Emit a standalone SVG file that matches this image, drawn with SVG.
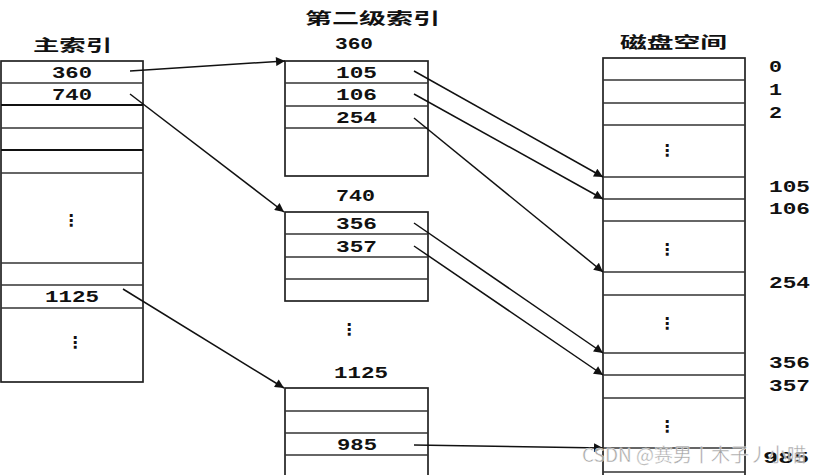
<svg xmlns="http://www.w3.org/2000/svg" width="828" height="475" viewBox="0 0 828 475">
<style>
.box{fill:#fff;stroke:#222;stroke-width:1.7}
.ln{stroke:#333;stroke-width:1.4}
.thk{stroke:#111;stroke-width:2.2}
.num{font-family:"Liberation Mono","DejaVu Sans Mono",monospace;font-weight:bold;font-size:17px;fill:#111}
.ttl{font-family:"Noto Sans CJK SC","Noto Sans",sans-serif;font-weight:bold;font-size:16px;fill:#111}
.dots{font-family:"DejaVu Sans",sans-serif;font-weight:bold;font-size:16px;fill:#111;text-anchor:middle}
.arr{stroke:#111;stroke-width:1.5;fill:none;marker-end:url(#ah)}
.wm{font-family:"Noto Sans CJK SC","Liberation Sans",sans-serif;font-size:19px;fill:#9a9a9a;stroke:#fff;stroke-width:0.4;opacity:0.9}
</style>
<defs>
<marker id="ah" viewBox="0 0 10 10" refX="10" refY="5" markerWidth="12" markerHeight="9" markerUnits="userSpaceOnUse" orient="auto">
<path d="M0,0 L10,5 L0,10 z" fill="#111"/>
</marker>
</defs>
<rect width="828" height="475" fill="#fff"/>

<g id="main-index">
<text class="ttl" x="33" y="51" textLength="79" lengthAdjust="spacingAndGlyphs">主索引</text>
<rect class="box" x="1" y="61" width="142" height="321"/>
<line class="ln" x1="1" y1="83" x2="143" y2="83"/>
<line class="thk" x1="1" y1="105" x2="143" y2="105"/>
<line class="ln" x1="1" y1="128" x2="143" y2="128"/>
<line class="thk" x1="1" y1="150" x2="143" y2="150"/>
<line class="ln" x1="1" y1="173" x2="143" y2="173"/>
<line class="ln" x1="1" y1="263" x2="143" y2="263"/>
<line class="ln" x1="1" y1="285" x2="143" y2="285"/>
<line class="ln" x1="1" y1="308" x2="143" y2="308"/>
<text class="num" x="52" y="78" textLength="40" lengthAdjust="spacingAndGlyphs">360</text>
<text class="num" x="52" y="100" textLength="40" lengthAdjust="spacingAndGlyphs">740</text>
<text class="dots" x="71" y="226">⋮</text>
<text class="num" x="45" y="302" textLength="54" lengthAdjust="spacingAndGlyphs">1125</text>
<text class="dots" x="75" y="348">⋮</text>
</g>

<text class="ttl" x="305" y="24" textLength="135" lengthAdjust="spacingAndGlyphs">第二级索引</text>

<g id="second-360">
<text class="num" x="335" y="49" textLength="38" lengthAdjust="spacingAndGlyphs">360</text>
<rect class="box" x="285" y="61" width="143" height="115"/>
<line class="ln" x1="285" y1="83" x2="428" y2="83"/>
<line class="ln" x1="285" y1="106" x2="428" y2="106"/>
<line class="ln" x1="285" y1="128" x2="428" y2="128"/>
<text class="num" x="336" y="78" textLength="41" lengthAdjust="spacingAndGlyphs">105</text>
<text class="num" x="336" y="100" textLength="41" lengthAdjust="spacingAndGlyphs">106</text>
<text class="num" x="336" y="123" textLength="41" lengthAdjust="spacingAndGlyphs">254</text>
</g>

<g id="second-740">
<text class="num" x="336" y="201" textLength="39" lengthAdjust="spacingAndGlyphs">740</text>
<rect class="box" x="285" y="212" width="143" height="89"/>
<line class="ln" x1="285" y1="234" x2="428" y2="234"/>
<line class="ln" x1="285" y1="257" x2="428" y2="257"/>
<line class="ln" x1="285" y1="279" x2="428" y2="279"/>
<text class="num" x="336" y="229" textLength="41" lengthAdjust="spacingAndGlyphs">356</text>
<text class="num" x="336" y="252" textLength="41" lengthAdjust="spacingAndGlyphs">357</text>
</g>

<text class="dots" x="349" y="335">⋮</text>

<g id="second-1125">
<text class="num" x="334" y="378" textLength="54" lengthAdjust="spacingAndGlyphs">1125</text>
<rect class="box" x="285" y="388" width="143" height="100"/>
<line class="ln" x1="285" y1="411" x2="428" y2="411"/>
<line class="ln" x1="285" y1="433" x2="428" y2="433"/>
<line class="ln" x1="285" y1="455" x2="428" y2="455"/>
<text class="num" x="337" y="450" textLength="40" lengthAdjust="spacingAndGlyphs">985</text>
</g>

<g id="disk">
<text class="ttl" x="620" y="48" textLength="107" lengthAdjust="spacingAndGlyphs">磁盘空间</text>
<rect class="box" x="603" y="58" width="142" height="430"/>
<line class="ln" x1="603" y1="80" x2="745" y2="80"/>
<line class="ln" x1="603" y1="103" x2="745" y2="103"/>
<line class="ln" x1="603" y1="125" x2="745" y2="125"/>
<line class="ln" x1="603" y1="177" x2="745" y2="177"/>
<line class="ln" x1="603" y1="199" x2="745" y2="199"/>
<line class="ln" x1="603" y1="221" x2="745" y2="221"/>
<line class="ln" x1="603" y1="272" x2="745" y2="272"/>
<line class="ln" x1="603" y1="295" x2="745" y2="295"/>
<line class="ln" x1="603" y1="353" x2="745" y2="353"/>
<line class="ln" x1="603" y1="375" x2="745" y2="375"/>
<line class="ln" x1="603" y1="398" x2="745" y2="398"/>
<line class="ln" x1="603" y1="448" x2="745" y2="448"/>
<line class="ln" x1="603" y1="472" x2="745" y2="472"/>
<text class="dots" x="667" y="156">⋮</text>
<text class="dots" x="667" y="255">⋮</text>
<text class="dots" x="667" y="329">⋮</text>
<text class="dots" x="667" y="432">⋮</text>
<text class="num" x="769" y="72" textLength="13" lengthAdjust="spacingAndGlyphs">0</text>
<text class="num" x="769" y="95" textLength="13" lengthAdjust="spacingAndGlyphs">1</text>
<text class="num" x="769" y="118" textLength="13" lengthAdjust="spacingAndGlyphs">2</text>
<text class="num" x="769" y="192" textLength="41" lengthAdjust="spacingAndGlyphs">105</text>
<text class="num" x="769" y="214" textLength="41" lengthAdjust="spacingAndGlyphs">106</text>
<text class="num" x="769" y="288" textLength="41" lengthAdjust="spacingAndGlyphs">254</text>
<text class="num" x="769" y="368" textLength="41" lengthAdjust="spacingAndGlyphs">356</text>
<text class="num" x="769" y="391" textLength="41" lengthAdjust="spacingAndGlyphs">357</text>
<text class="num" x="763" y="463" textLength="46" lengthAdjust="spacingAndGlyphs">985</text>
</g>

<g id="connectors">
<line class="arr" x1="130" y1="71" x2="285" y2="61"/>
<line class="arr" x1="130" y1="94" x2="284" y2="212"/>
<line class="arr" x1="123" y1="289" x2="284" y2="388"/>
<line class="arr" x1="414" y1="71" x2="603" y2="177"/>
<line class="arr" x1="414" y1="94" x2="603" y2="199"/>
<line class="arr" x1="414" y1="118" x2="603" y2="272"/>
<line class="arr" x1="414" y1="223" x2="603" y2="353"/>
<line class="arr" x1="414" y1="246" x2="603" y2="375"/>
<line class="arr" x1="414" y1="445" x2="603" y2="448"/>
</g>

<text class="wm" x="582" y="462">CSDN @赛男丨木子丿小喵</text>
</svg>
